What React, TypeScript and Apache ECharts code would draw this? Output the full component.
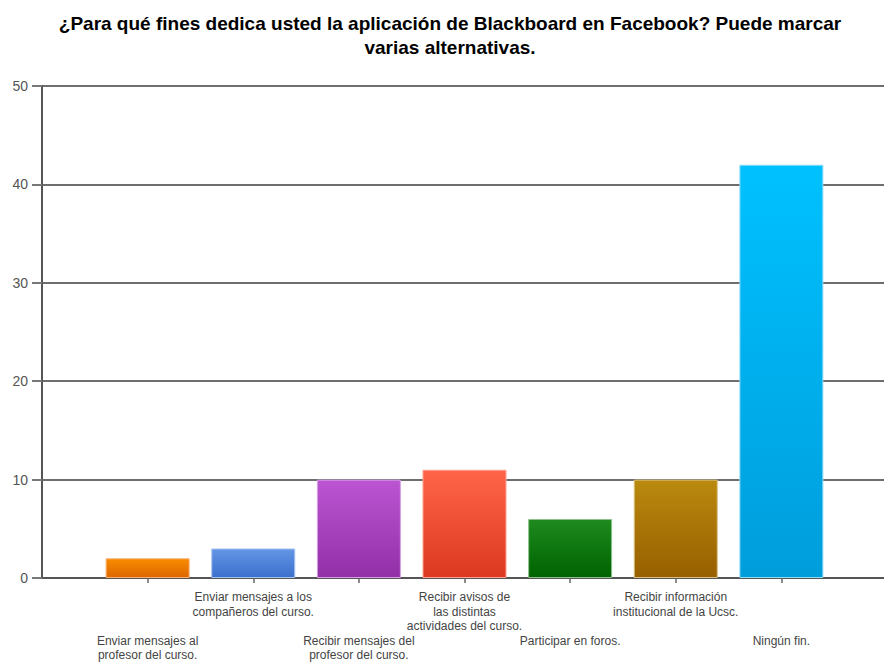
import React, { useEffect, useRef } from "react";
import * as echarts from "echarts";

const title =
  "¿Para qué fines dedica usted la aplicación de Blackboard en Facebook? Puede marcar\nvarias alternativas.";

const categories = [
  "Enviar mensajes al\nprofesor del curso.",
  "Enviar mensajes a los\ncompañeros del curso.",
  "Recibir mensajes del\nprofesor del curso.",
  "Recibir avisos de\nlas distintas\nactividades del curso.",
  "Participar en foros.",
  "Recibir información\ninstitucional de la Ucsc.",
  "Ningún fin.",
];

const values = [2, 3, 10, 11, 6, 10, 42];

const yTicks = [0, 10, 20, 30, 40, 50];

const topColors = ["#F98C00", "#6496E6", "#BC55D2", "#FF6449", "#1E8A1E", "#BA8A0E", "#00C1FF"];
const bottomColors = ["#DD6600", "#3A6FCD", "#9230A8", "#DC3A20", "#006300", "#975F00", "#009DDB"];
const borderColors = ["#F8B070", "#A8C4F0", "#D8A0E4", "#FFA090", "#90C090", "#D8C080", "#90DDF8"];

export default function App() {
  const ref = useRef<HTMLDivElement>(null);

  useEffect(() => {
    if (!ref.current) return;
    const chart = echarts.init(ref.current, undefined, { renderer: "svg" });

    const paddedCats = ["", ...categories, ""];
    const data: any[] = [
      "-",
      ...values.map((v, i) => ({
        value: v,
        itemStyle: {
          color: new echarts.graphic.LinearGradient(0, 0, 0, 1, [
            { offset: 0, color: topColors[i] },
            { offset: 1, color: bottomColors[i] },
          ]),
          borderColor: borderColors[i],
          borderWidth: 1,
        },
      })),
      "-",
    ];

    chart.setOption({
      animation: false,
      backgroundColor: "#ffffff",
      title: {
        text: title,
        left: 445,
        top: 6,
        textAlign: "center",
        textStyle: {
          fontFamily: "Liberation Sans, Arial, sans-serif",
          fontSize: 19,
          fontWeight: "bold",
          color: "#000",
          lineHeight: 24,
          align: "center",
        },
      },
      grid: {
        left: 42,
        top: 86,
        right: 0,
        bottom: 85,
        containLabel: false,
      },
      xAxis: {
        type: "category",
        data: paddedCats,
        boundaryGap: false,
        axisLine: { show: true, lineStyle: { color: "#555", width: 2 } },
        axisTick: {
          show: true,
          length: 5,
          interval: (index: number) => index > 0 && index < paddedCats.length - 1,
          lineStyle: { color: "#666", width: 1.5 },
        },
        axisLabel: {
          interval: 0,
          margin: 12,
          fontFamily: "Liberation Sans, Arial, sans-serif",
          fontSize: 12,
          lineHeight: 14.5,
          color: "#444",
          align: "center",
          formatter: (value: string, index: number) =>
            index % 2 === 1 ? "\n\n\n" + value : value,
        },
        splitLine: { show: false },
      },
      yAxis: {
        type: "value",
        min: 0,
        max: 50,
        interval: 10,
        axisLine: { show: true, lineStyle: { color: "#555", width: 2 } },
        axisTick: { show: true, length: 10, lineStyle: { color: "#777", width: 2 } },
        axisLabel: {
          margin: 14,
          fontFamily: "Liberation Sans, Arial, sans-serif",
          fontSize: 14,
          color: "#555",
          formatter: (v: number) => (yTicks.includes(v) ? String(v) : ""),
        },
        splitLine: { show: true, lineStyle: { color: "#6e6e6e", width: 2 } },
      },
      series: [
        {
          type: "bar",
          data,
          barWidth: 84,
        },
      ],
    });

    return () => chart.dispose();
  }, []);

  return (
    <div
      ref={ref}
      style={{ position: "fixed", left: 0, top: 0, width: 890, height: 663, background: "#fff" }}
    />
  );
}
